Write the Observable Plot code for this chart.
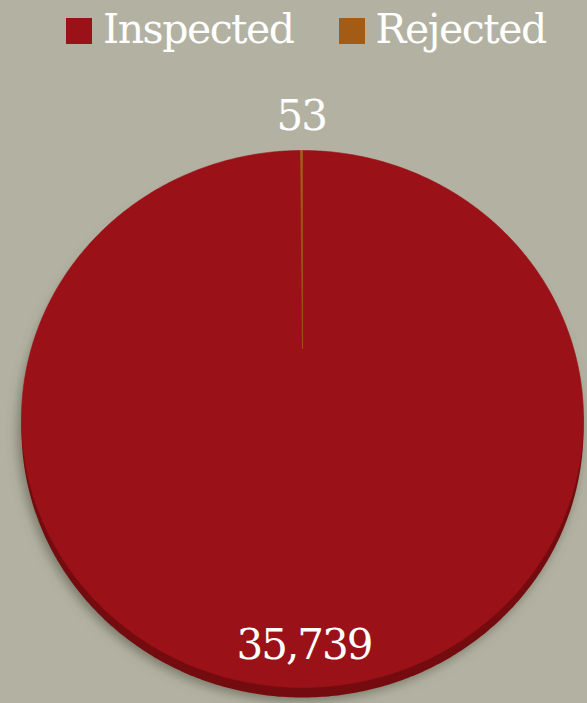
<!DOCTYPE html>
<html><head><meta charset="utf-8">
<script src="https://cdn.jsdelivr.net/npm/d3@7"></script>
<script src="https://cdn.jsdelivr.net/npm/@observablehq/plot@0.6"></script>
<style>
body{margin:0;background:#b3b2a2;width:587px;height:703px;overflow:hidden;font-family:"DejaVu Serif",serif}
#legend{height:62px;display:flex;align-items:center;padding-left:66px;color:#fff;font-size:41px;line-height:50px;box-sizing:border-box}
.item{display:flex;align-items:center;margin-right:45px}
.sw{width:26px;height:26px;margin-right:11px}
.lt{position:relative;top:-2px;letter-spacing:-1.5px}
</style></head><body>
<div id="legend"></div><div id="chart"></div>
<script>
const categories = ["Inspected", "Rejected"];
const values = [35739, 53];
const valueLabels = ["35,739", "53"];
const colors = ["#9a1117", "#a35c16"];
const serif = '"DejaVu Serif",serif';

// legend
const legend = document.getElementById("legend");
categories.forEach((c, i) => {
  const it = document.createElement("div"); it.className = "item";
  const sw = document.createElement("div"); sw.className = "sw"; sw.style.background = colors[i];
  const t = document.createElement("span"); t.className = "lt"; t.textContent = c;
  it.appendChild(sw); it.appendChild(t); legend.appendChild(it);
});

// perspective tilt of the 3D pie
const a = 0.2626;
const proj = (ang, r) => {
  const u = r * Math.sin(ang), v = r * Math.cos(ang);
  return {X: u / (1 + a * v), Y: v / (1 + a * v)};
};

const arcs = d3.pie().sort(null)(values);
const slices = [];
arcs.forEach((d, i) => {
  const cat = categories[i];
  slices.push({cat, ...proj(0, 0)});
  const n = Math.max(2, Math.ceil((d.endAngle - d.startAngle) / (Math.PI / 360)));
  for (let k = 0; k <= n; k++) {
    const ang = d.startAngle + (d.endAngle - d.startAngle) * k / n;
    slices.push({cat, ...proj(ang, 1)});
  }
  slices.push({cat, ...proj(0, 0)});
});

const rim = [];
for (let k = 0; k <= 720; k++) rim.push(proj(2 * Math.PI * k / 720, 1));

const labelR = [0.905, 1.23];
const labels = arcs.map((d, i) => ({cat: categories[i], text: valueLabels[i], ...proj((d.startAngle + d.endAngle) / 2, labelR[i])}));

const Xm = 1 / Math.sqrt(1 - a * a);

const chart = Plot.plot({
  width: 587,
  height: 641,
  margin: 0,
  style: {background: "transparent", overflow: "visible", fontFamily: serif},
  x: {domain: [-Xm, Xm], range: [21, 583], axis: null},
  y: {domain: [-1 / (1 - a), 1 / (1 + a)], range: [625, 88], axis: null},
  color: {domain: categories, range: colors},
  marks: [
    Plot.line(rim, {x: "X", y: "Y", fill: "#5c5b4c", fillOpacity: 0.7, stroke: "none", dy: 13, dx: -3}),
    Plot.line(rim, {x: "X", y: "Y", fill: "#740b0f", stroke: "none", dy: 10}),
    Plot.line(slices, {x: "X", y: "Y", z: "cat", fill: "cat", stroke: "cat", strokeWidth: 0.6}),
    Plot.text(labels, {x: "X", y: "Y", text: "text", fill: "white", fontSize: 42, fontFamily: serif})
  ]
});
document.getElementById("chart").appendChild(chart);

const ns = "http://www.w3.org/2000/svg";
const defs = document.createElementNS(ns, "defs");
defs.innerHTML = '<filter id="blur" x="-20%" y="-20%" width="140%" height="140%"><feGaussianBlur stdDeviation="6"/></filter>';
chart.insertBefore(defs, chart.firstChild);
chart.querySelectorAll('g[aria-label="line"]')[0].setAttribute("filter", "url(#blur)");
chart.querySelectorAll('g[aria-label="text"]').forEach(g => g.setAttribute("letter-spacing", "-2"));
</script>
</body></html>
